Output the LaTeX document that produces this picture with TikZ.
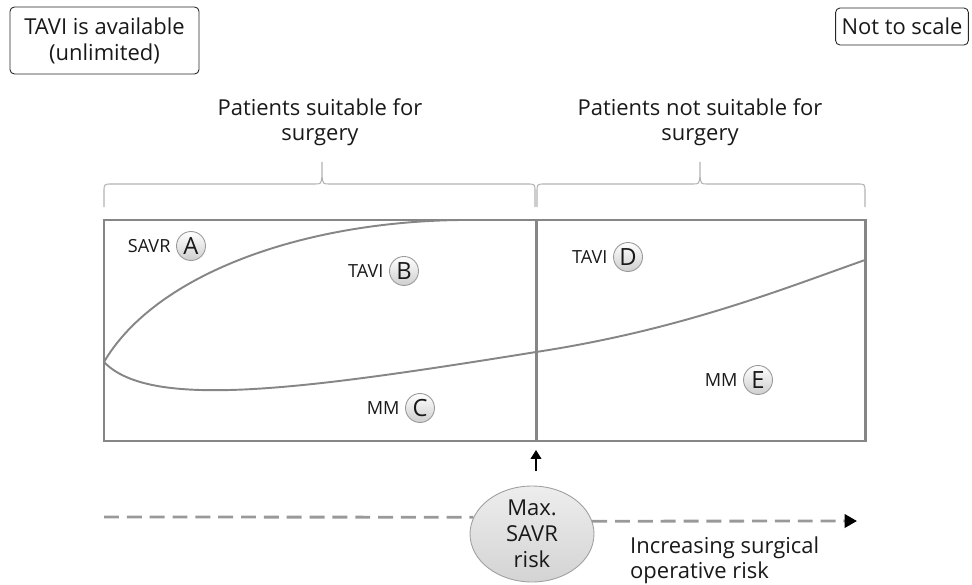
\documentclass[tikz,border=0pt]{standalone}
\usepackage{fontspec}
\setmainfont{Open Sans}
\usepackage{tikz}
\usetikzlibrary{arrows.meta,shapes}

\begin{document}
\begin{tikzpicture}[x=0.02cm, y=-0.02cm,
    letternode/.style={circle, draw=gray!80, line width=0.5pt, top color=white, bottom color=gray!38, inner sep=0pt, minimum size=0.58cm, text=black!90, font=\fontsize{13.5}{14}\selectfont},
    tagtext/.style={inner sep=1pt, text=black!90, font=\fontsize{10.3}{12}\selectfont},
    notebox/.style={draw=black!85, line width=0.5pt, rounded corners=2.5pt, align=center, text=black!90, font=\fontsize{12.5}{14.7}\selectfont},
    titletext/.style={align=center, text=black!90, font=\fontsize{12.5}{14}\selectfont},
    chartline/.style={draw=gray!95, line width=1.7pt},
    curveline/.style={draw=gray!95, line width=1.1pt},
    bracepath/.style={draw=gray!60, line width=0.6pt},
    riskline/.style={draw=gray!80, line width=1.6pt, dash pattern=on 8.5pt off 4.5pt}]

    \useasboundingbox (0,0) rectangle (972,584);

    % corner notes
    \node[notebox, minimum width=3.78cm, minimum height=1.34cm](tavibox) at (104.5,40.5) {TAVI is available\\(unlimited)};
    \node[notebox, minimum width=2.6cm, minimum height=0.74cm](scalenote) at (902,26.5) {Not to scale};

    % headings and braces
    \node[titletext](suitable) at (320,122) {Patients suitable for\\surgery};
    \node[titletext](notsuitable) at (700,122) {Patients not suitable for\\surgery};

    \foreach \a/\m/\b in {104/322/535, 537/700/865}
        \draw[bracepath] (\a,207) -- (\a,192) .. controls (\a,184) .. ({\a+8},184) -- ({\m-7},184) .. controls ({\m-1},184) .. (\m,176) -- (\m,162)
            -- (\m,176) .. controls ({\m+1},184) .. ({\m+7},184) -- ({\b-8},184) .. controls (\b,184) .. (\b,192) -- (\b,207);

    % treatment curves
    \draw[curveline] (104,362) .. controls (155,275) and (300,222) .. (460,220) -- (536,220);
    \draw[curveline] (104,362) .. controls (150,410) and (300,390) .. (536,352) .. controls (680,330) and (780,290) .. (865,260);

    % chart frame
    \draw[chartline] (104,220) rectangle (865,441);
    \draw[chartline] (536,220) -- (536,441);

    % options
    \node[letternode][label={[tagtext, label distance=2pt]left:SAVR}](a) at (191,246) {A};
    \node[letternode][label={[tagtext, label distance=2pt]left:TAVI}](b) at (404,271) {B};
    \node[letternode][label={[tagtext, label distance=2pt]left:MM}](c) at (420,408) {C};
    \node[letternode][label={[tagtext, label distance=2pt]left:TAVI}](d) at (628,257) {D};
    \node[letternode][label={[tagtext, label distance=2pt]left:MM}](e) at (758,380) {E};

    % risk axis
    \node[ellipse, draw=gray!75, line width=0.5pt, top color=gray!14, bottom color=gray!34, minimum width=2.48cm, minimum height=1.92cm, inner sep=0pt, align=center, text=black!90, font=\fontsize{12.5}{14.7}\selectfont](maxrisk) at (532,534) {Max.\\SAVR\\risk};

    \coordinate (riskstart) at (104,517);
    \coordinate (riskend) at (857,521);
    \draw[riskline] (riskstart) -- (maxrisk.164);
    \draw[riskline, -{Triangle[length=7pt, width=7.5pt, black]}] (maxrisk.12) -- (riskend);

    \coordinate (maxfoot) at (536,471);
    \coordinate (maxtip) at (536,450);
    \draw[line width=0.9pt, black, -{Triangle[length=5pt, width=6pt]}] (maxfoot) -- (maxtip);

    \node[titletext, align=left, anchor=west](risktext) at (624,560) {Increasing surgical\\operative risk};

\end{tikzpicture}
\end{document}
